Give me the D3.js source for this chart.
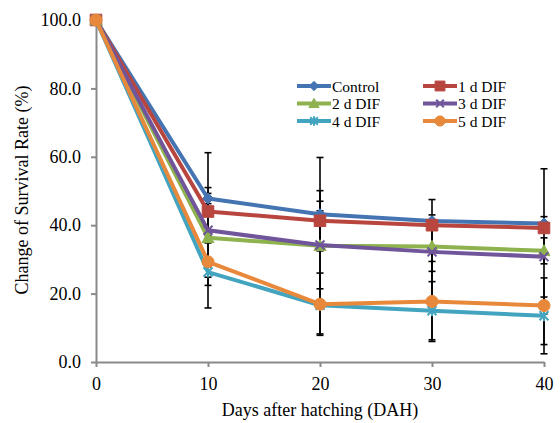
<!DOCTYPE html>
<html>
<head>
<script src="https://cdn.jsdelivr.net/npm/d3@7/dist/d3.min.js"></script>
<style>
  body { margin: 0; background: #fff; }
  text { font-family: "Liberation Serif", "Times New Roman", serif; fill: #000; }
  .axis path, .axis line { stroke: #8a8a8a; stroke-width: 2px; }
</style>
</head>
<body>
<svg width="560" height="423"></svg>
<script>
// days after hatching
var days = [0, 10, 20, 30, 40];

// survival rate (%) per treatment
var control = [100, 47.8, 43.2, 41.2, 40.5];
var dif1 = [100, 44.0, 41.3, 40.0, 39.2];
var dif2 = [100, 36.3, 34.0, 33.8, 32.5];
var dif3 = [100, 38.5, 34.2, 32.2, 30.8];
var dif4 = [100, 26.3, 16.6, 15.0, 13.5];
var dif5 = [100, 29.3, 16.9, 17.7, 16.5];

// error bars (+/-)
var controlErr = [0, 1.5, 1.0, 1.8, 2.0];
var dif1Err = [0, 7.0, 8.8, 1.0, 1.0];
var dif2Err = [0, 1.5, 25.8, 7.3, 3.8];
var dif3Err = [0, 22.7, 12.8, 15.3, 25.7];
var dif4Err = [0, 1.5, 1.0, 8.5, 11.1];
var dif5Err = [0, 6.9, 9.1, 11.7, 2.5];

var seriesNames = ["Control", "1 d DIF", "2 d DIF", "3 d DIF", "4 d DIF", "5 d DIF"];
var yTicks = [0, 20, 40, 60, 80, 100];

var colors = ["#4574b2", "#b8463f", "#8db24e", "#70559b", "#43a4c0", "#e8883a"];
var markers = ["diamond", "square", "triangle", "x", "star", "circle"];

var series = [
  { name: seriesNames[0], values: control, err: controlErr },
  { name: seriesNames[1], values: dif1, err: dif1Err },
  { name: seriesNames[2], values: dif2, err: dif2Err },
  { name: seriesNames[3], values: dif3, err: dif3Err },
  { name: seriesNames[4], values: dif4, err: dif4Err },
  { name: seriesNames[5], values: dif5, err: dif5Err }
];
series.forEach(function(s, i) { s.color = colors[i]; s.marker = markers[i]; });

var svg = d3.select("svg");

var x = d3.scaleLinear().domain([0, 40]).range([96, 544]);
var y = d3.scaleLinear().domain([0, 100]).range([362, 20]);

function markerPath(type, k) {
  k = k || 1;
  var r;
  switch (type) {
    case "diamond": r = 5.5 * k; return "M0," + (-r) + "L" + r + ",0L0," + r + "L" + (-r) + ",0Z";
    case "square": r = 5.8 * k; return "M" + (-r) + "," + (-r) + "H" + r + "V" + r + "H" + (-r) + "Z";
    case "triangle": r = 6 * k; return "M0," + (-r) + "L" + r + "," + (0.8 * r) + "L" + (-r) + "," + (0.8 * r) + "Z";
    case "x": r = 4.5 * k; return "M" + (-r) + "," + (-r) + "L" + r + "," + r + "M" + (-r) + "," + r + "L" + r + "," + (-r);
    case "star": r = 4.5 * k; return "M" + (-r) + "," + (-r) + "L" + r + "," + r + "M" + (-r) + "," + r + "L" + r + "," + (-r) + "M0," + (-r - 1) + "L0," + (r + 1);
    case "circle": r = 6 * k; return "M" + r + ",0A" + r + "," + r + " 0 1 1 " + (-r) + ",0A" + r + "," + r + " 0 1 1 " + r + ",0Z";
  }
}
function isOpen(type) { return type === "x" || type === "star"; }

// axes
var yAxis = d3.axisLeft(y)
  .tickValues(yTicks)
  .tickFormat(d3.format(".1f"))
  .tickSize(5)
  .tickSizeOuter(0)
  .tickPadding(10);

var xAxis = d3.axisBottom(x)
  .tickValues(days)
  .tickSize(5)
  .tickSizeOuter(0)
  .tickPadding(10);

svg.append("g")
  .attr("class", "axis")
  .attr("transform", "translate(" + x(0) + ",0)")
  .call(yAxis)
  .selectAll("text")
  .style("font-size", "18px");

svg.append("g")
  .attr("class", "axis")
  .attr("transform", "translate(0," + y(0) + ")")
  .call(xAxis)
  .selectAll("text")
  .style("font-size", "18px");

svg.selectAll(".axis .domain").attr("stroke", "#8a8a8a");

// axis titles
svg.append("text")
  .attr("x", 320)
  .attr("y", 416)
  .attr("text-anchor", "middle")
  .style("font-size", "18px")
  .text("Days after hatching (DAH)");

svg.append("text")
  .attr("transform", "translate(28,190) rotate(-90)")
  .attr("text-anchor", "middle")
  .style("font-size", "18px")
  .text("Change of Survival Rate (%)");

// error bars
var errG = svg.append("g");
series.forEach(function(s) {
  s.values.forEach(function(v, i) {
    var e = s.err[i];
    if (!e) return;
    var cx = x(days[i]);
    var g = errG.append("g").attr("stroke", "#000").attr("stroke-width", 1.6);
    g.append("line").attr("x1", cx).attr("x2", cx).attr("y1", y(v - e)).attr("y2", y(v + e));
    g.append("line").attr("x1", cx - 3.5).attr("x2", cx + 3.5).attr("y1", y(v - e)).attr("y2", y(v - e));
    g.append("line").attr("x1", cx - 3.5).attr("x2", cx + 3.5).attr("y1", y(v + e)).attr("y2", y(v + e));
  });
});

// lines and markers
var line = d3.line()
  .x(function(d, i) { return x(days[i]); })
  .y(function(d) { return y(d); });

series.forEach(function(s) {
  var g = svg.append("g");
  g.append("path")
    .datum(s.values)
    .attr("d", line)
    .attr("fill", "none")
    .attr("stroke", s.color)
    .attr("stroke-width", 4)
    .attr("stroke-linejoin", "round");

  g.selectAll(".mk")
    .data(s.values)
    .enter()
    .append("path")
    .attr("transform", function(d, i) { return "translate(" + x(days[i]) + "," + y(d) + ")"; })
    .attr("d", markerPath(s.marker))
    .attr("fill", isOpen(s.marker) ? "none" : s.color)
    .attr("stroke", s.color)
    .attr("stroke-width", isOpen(s.marker) ? 2 : 1);
});

// legend
var legX = [297, 423];
var legY = [86, 103.5, 121];
var legend = svg.append("g");
series.forEach(function(s, i) {
  var lx = legX[i % 2];
  var ly = legY[Math.floor(i / 2)];
  var g = legend.append("g").attr("transform", "translate(" + lx + "," + ly + ")");
  g.append("line")
    .attr("x1", 0).attr("x2", 34)
    .attr("y1", 0).attr("y2", 0)
    .attr("stroke", s.color)
    .attr("stroke-width", 4);
  g.append("path")
    .attr("transform", "translate(17,0)")
    .attr("d", markerPath(s.marker, 0.85))
    .attr("fill", isOpen(s.marker) ? "none" : s.color)
    .attr("stroke", s.color)
    .attr("stroke-width", isOpen(s.marker) ? 2 : 1);
  g.append("text")
    .attr("x", 35)
    .attr("y", 5.5)
    .style("font-size", "15.5px")
    .text(s.name);
});
</script>
</body>
</html>
